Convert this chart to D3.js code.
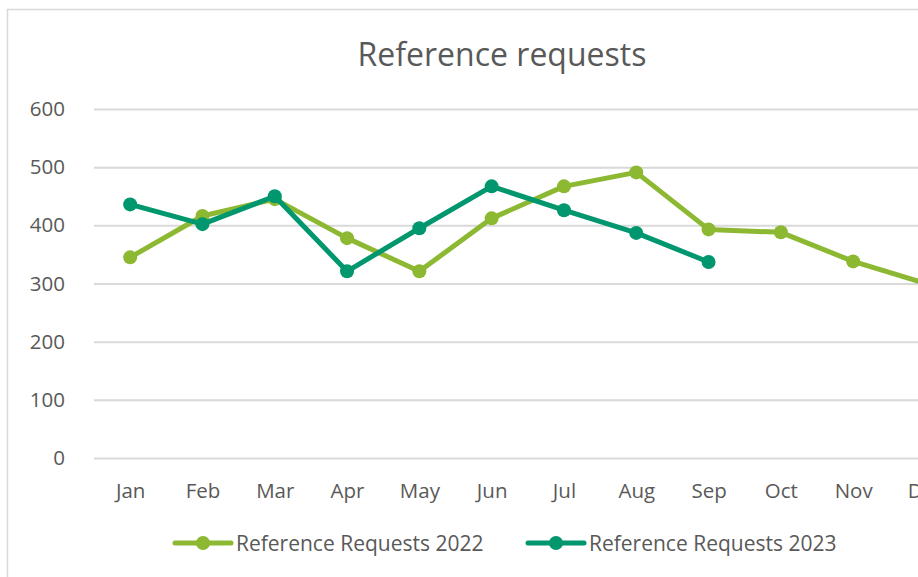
<!DOCTYPE html>
<html>
<head>
<meta charset="utf-8">
<script src="https://cdn.jsdelivr.net/npm/d3@7"></script>
<style>
  html, body { margin: 0; padding: 0; background: #fff; overflow: hidden; }
  svg { display: block; font-family: "Open Sans", sans-serif; }
</style>
</head>
<body>
<div id="chart"></div>
<script>
// data
var months = ['Jan', 'Feb', 'Mar', 'Apr', 'May', 'Jun', 'Jul', 'Aug', 'Sep', 'Oct', 'Nov', 'Dec'];
var requests2022 = [345, 416, 445, 378, 321, 412, 467, 491, 393, 388, 338, 300];
var requests2023 = [436, 402, 450, 321, 395, 467, 426, 387, 337];
var yTicks = [0, 100, 200, 300, 400, 500, 600];
var seriesNames = ['Reference Requests 2022', 'Reference Requests 2023'];

var width = 918;
var height = 577;
var margin = { top: 109, left: 94, bottom: 119 };
var step = 72.3;
var colors = ['#8CB832', '#00966E'];
var textColor = '#595959';
var gridColor = '#d9d9d9';

var svg = d3.select('#chart').append('svg')
  .attr('width', width)
  .attr('height', height);

// chart area border (runs off the right and bottom of the picture)
svg.append('rect')
  .attr('x', 7.5).attr('y', 9.5)
  .attr('width', 1200).attr('height', 800)
  .attr('fill', 'none')
  .attr('stroke', gridColor)
  .attr('stroke-width', 1.5);

svg.append('text')
  .attr('x', 502).attr('y', 66)
  .attr('text-anchor', 'middle')
  .attr('fill', textColor)
  .attr('font-size', '32px')
  .text('Reference requests');

// scales
var x = d3.scalePoint()
  .domain(months)
  .range([margin.left + step / 2, margin.left + step * 11.5]);

var y = d3.scaleLinear()
  .domain([0, 600])
  .range([height - margin.bottom, margin.top]);

// gridlines + y labels
var yAxis = svg.append('g')
  .call(d3.axisLeft(y).tickValues(yTicks).tickSize(-step * 12).tickPadding(29))
  .attr('transform', 'translate(' + margin.left + ',0)');
yAxis.select('.domain').remove();
yAxis.selectAll('.tick line').attr('stroke', gridColor).attr('stroke-width', 2);
yAxis.selectAll('.tick text')
  .attr('fill', textColor)
  .attr('font-size', '20.5px')
  .attr('font-family', '"Open Sans", sans-serif');

// x labels
var xAxis = svg.append('g')
  .attr('transform', 'translate(0,' + (height - margin.bottom) + ')')
  .call(d3.axisBottom(x).tickSize(0).tickPadding(25));
xAxis.select('.domain').remove();
xAxis.selectAll('.tick text')
  .attr('fill', textColor)
  .attr('font-size', '20.5px')
  .attr('font-family', '"Open Sans", sans-serif');

var line = d3.line()
  .x(function (d, i) { return x(months[i]); })
  .y(function (d) { return y(d); });

[requests2022, requests2023].forEach(function (values, s) {
  svg.append('path')
    .datum(values)
    .attr('d', line)
    .attr('fill', 'none')
    .attr('stroke', colors[s])
    .attr('stroke-width', 5)
    .attr('stroke-linejoin', 'round');

  svg.append('g').selectAll('circle')
    .data(values)
    .join('circle')
    .attr('cx', function (d, i) { return x(months[i]); })
    .attr('cy', function (d) { return y(d); })
    .attr('r', 7)
    .attr('fill', colors[s]);
});

// legend
var legendX = [175, 528];
seriesNames.forEach(function (name, s) {
  var g = svg.append('g').attr('transform', 'translate(' + legendX[s] + ',543)');
  g.append('line')
    .attr('x1', 0).attr('x2', 56)
    .attr('stroke', colors[s])
    .attr('stroke-width', 5)
    .attr('stroke-linecap', 'round');
  g.append('circle').attr('cx', 28).attr('r', 7).attr('fill', colors[s]);
  g.append('text')
    .attr('x', 61).attr('y', 7.5)
    .attr('fill', textColor)
    .attr('font-size', '21px')
    .text(name);
});
</script>
</body>
</html>
